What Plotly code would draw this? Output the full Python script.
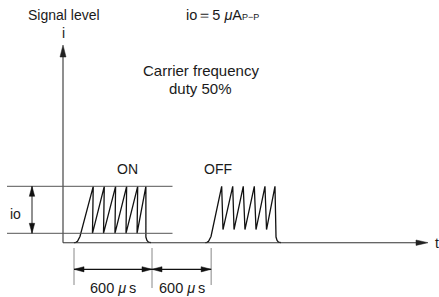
import plotly.graph_objects as go

# ---------------- data (time in µs, current in µA) ----------------
on_t = [0, 15, 27, 37, 46, 148, 142, 233, 227, 320, 315, 405, 400, 490, 485, 553, 553, 561, 573, 592]
on_i = [0, 0.04, 0.16, 0.36, 0.66, 6, 1, 6, 1, 6, 1, 6, 1, 6, 1, 6, 0.6, 0.25, 0.06, 0]
off_t = [1010, 1023, 1035, 1045, 1054, 1136, 1146, 1221, 1231, 1302, 1315, 1387, 1400, 1469, 1481, 1546, 1554, 1562, 1573, 1592]
off_i = [0, 0.04, 0.16, 0.36, 0.66, 6, 1.4, 6, 1.4, 6, 1.4, 6, 1.4, 6, 1.4, 6, 0.6, 0.25, 0.06, 0]
io_levels = [1, 6]             # lower / upper level, io = 5 µA p-p
dim_marks = [0, 600, 1055]     # dimension boundaries (µs, schematic)
dim_labels = ["600 <i>μ</i>\u2009s", "600 <i>μ</i>\u2009s"]
pulse_labels = ["ON", "OFF"]

# ---------------- layout geometry ----------------
W, H = 439, 297
PX_T = 0.13      # px per µs
PX_I = 9.4       # px per µA
X0, Y0 = 74, 242.7   # pixel of (t=0, i=0)

def t_of(px):
    return (px - X0) / PX_T

def i_of(py):
    return (Y0 - py) / PX_I

def paper(px, py):
    return px / W, 1 - py / H

FONT = "Liberation Sans, Arial, Helvetica, sans-serif"
TXT = "#1a1a1a"

fig = go.Figure()

# waveforms
for tt, ii in ((on_t, on_i), (off_t, off_i)):
    fig.add_trace(go.Scatter(x=tt, y=ii, mode="lines",
                             line=dict(color="#111111", width=1.3),
                             hoverinfo="skip", showlegend=False))

shapes = []

def line(x0, y0, x1, y1, color="#333333", width=1.0):
    shapes.append(dict(type="line", xref="x", yref="y", x0=x0, y0=y0, x1=x1, y1=y1,
                       line=dict(color=color, width=width)))

def head(tip_px, tip_py, dx, dy, length, hw, color="#111111"):
    # dx, dy: unit direction (pixel space) in which the arrow points
    bx, by = tip_px - dx * length, tip_py - dy * length
    nx, ny = -dy, dx
    pts = [(tip_px, tip_py), (bx + nx * hw, by + ny * hw), (bx - nx * hw, by - ny * hw)]
    path = "M " + " L ".join(f"{t_of(p[0]):.3f},{i_of(p[1]):.4f}" for p in pts) + " Z"
    shapes.append(dict(type="path", xref="x", yref="y", path=path,
                       fillcolor=color, line=dict(color=color, width=0.5)))

# axes
ax_px = 63
line(t_of(ax_px), 0, t_of(ax_px), i_of(55), "#333333", 1.1)
head(ax_px, 45, 0, -1, 12, 3.0, "#222222")
line(t_of(ax_px), 0, t_of(418), 0, "#333333", 1.1)
head(428, Y0, 1, 0, 12, 2.7, "#222222")

# io reference levels
for lv in io_levels:
    line(t_of(7), lv, t_of(172.5), lv, "#555555", 1.0)

# io double arrow
io_px = 32
line(t_of(io_px), io_levels[0], t_of(io_px), io_levels[1], "#222222", 1.0)
head(io_px, Y0 - io_levels[1] * PX_I, 0, -1, 10, 2.7)
head(io_px, Y0 - io_levels[0] * PX_I, 0, 1, 10, 2.7)

# dimension lines
dim_py = 269.3
tick_ends = [285, 288, 285]
for k, m in enumerate(dim_marks):
    line(m, i_of(248), m, i_of(tick_ends[k]), "#888888", 1.0)
for a, b in zip(dim_marks[:-1], dim_marks[1:]):
    pa, pb = X0 + a * PX_T, X0 + b * PX_T
    line(a, i_of(dim_py), b, i_of(dim_py), "#111111", 1.2)
    head(pa, dim_py, -1, 0, 10, 2.6)
    head(pb, dim_py, 1, 0, 10, 2.6)

annotations = []

def text(s, px, py, size=14, xanchor="center"):
    x, y = paper(px, py)
    annotations.append(dict(text=s, x=x, y=y, xref="paper", yref="paper",
                            xanchor=xanchor, yanchor="middle", showarrow=False,
                            font=dict(family=FONT, size=size, color=TXT)))

text("Signal level", 64, 15)
text("io＝5 <i>μ</i>A<span style='font-size:9px'>P−P</span>", 184, 15, size=14.5, xanchor="left")
text("i", 63, 33)
text("Carrier frequency", 200.5, 70, size=15)
text("duty 50%", 200.5, 88, size=15)
text(pulse_labels[0], 127, 169)
text(pulse_labels[1], 218, 169)
text("io", 15.5, 214)
text("t", 436.5, 243)
for k, lab in enumerate(dim_labels):
    ca = X0 + (dim_marks[k] + dim_marks[k + 1]) / 2 * PX_T
    text(lab, ca, 288, size=14.5)

fig.update_layout(
    width=W, height=H,
    margin=dict(l=0, r=0, t=0, b=0),
    paper_bgcolor="white", plot_bgcolor="white",
    xaxis=dict(range=[t_of(0), t_of(W)], visible=False, fixedrange=True),
    yaxis=dict(range=[i_of(H), i_of(0)], visible=False, fixedrange=True),
    shapes=shapes, annotations=annotations,
    showlegend=False,
)

fig.write_html("out.html", config={"displayModeBar": False},
               post_script=["document.body.style.margin='0';document.body.style.overflow='hidden';"])
